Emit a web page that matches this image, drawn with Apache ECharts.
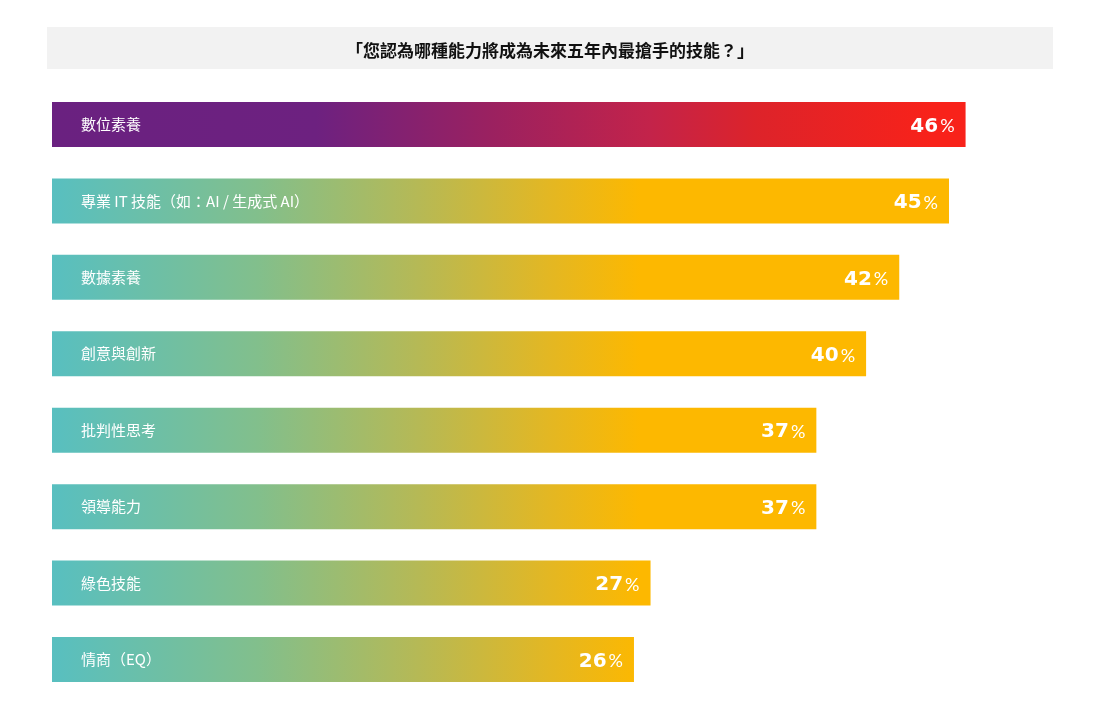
<!DOCTYPE html>
<html>
<head>
<meta charset="utf-8">
<script src="https://cdn.jsdelivr.net/npm/echarts@6/dist/echarts.min.js"></script>
<style>
html,body{margin:0;padding:0;background:#fff;}
#chart{width:1100px;height:710px;}
</style>
</head>
<body>
<div id="chart"></div>
<script>
const titleText = '「您認為哪種能力將成為未來五年內最搶手的技能？」';
const categories = ['數位素養', '專業 IT 技能（如：AI / 生成式 AI）', '數據素養', '創意與創新', '批判性思考', '領導能力', '綠色技能', '情商（EQ）'];
const values = [46, 45, 42, 40, 37, 37, 27, 26];

const AXIS_MIN = -9.1;
const AXIS_MAX = 50;

const chart = echarts.init(document.getElementById('chart'), null, {renderer: 'canvas'});

const highlightGrad = new echarts.graphic.LinearGradient(52, 0, 932, 0, [
  {offset: 0, color: '#6a2180'},
  {offset: 0.3, color: '#6d2180'},
  {offset: 0.5, color: '#9b2160'},
  {offset: 0.68, color: '#c3234a'},
  {offset: 0.8, color: '#dd232a'},
  {offset: 1, color: '#f8221a'}
], true);
const normalGrad = new echarts.graphic.LinearGradient(52, 0, 640, 0, [
  {offset: 0, color: '#58bfc0'},
  {offset: 0.35, color: '#82bf8c'},
  {offset: 0.62, color: '#b5b956'},
  {offset: 0.85, color: '#e4b722'},
  {offset: 1, color: '#fdb800'}
], true);

const data = values.map((v, i) => [v, i]);

chart.setOption({
  animation: false,
  graphic: [
    {type: 'rect', left: 47, top: 27, shape: {width: 1006, height: 42}, style: {fill: '#f2f2f2'}, z: 0}
  ],
  title: {
    text: titleText,
    left: 'center',
    top: 37,
    textStyle: {fontFamily: '"Noto Sans CJK TC"', fontSize: 17, fontWeight: 'bold', color: '#111'}
  },
  grid: {left: 52, right: 68.1, top: 86.3, bottom: 12.3, containLabel: false},
  xAxis: {type: 'value', min: AXIS_MIN, max: AXIS_MAX, show: false},
  yAxis: {type: 'category', data: categories, inverse: true, show: false},
  series: [{
    type: 'custom',
    data: data,
    encode: {x: 0, y: 1},
    renderItem: function (params, api) {
      const idx = api.value(1);
      const v = api.value(0);
      const start = api.coord([AXIS_MIN, idx]);
      const end = api.coord([v, idx]);
      const h = 45;
      const y = start[1] - h / 2;
      return {
        type: 'group',
        children: [
          {
            type: 'rect',
            shape: {x: start[0], y: y, width: end[0] - start[0], height: h},
            style: {fill: idx === 0 ? highlightGrad : normalGrad}
          },
          {
            type: 'text',
            x: start[0] + 29,
            y: start[1],
            style: {
              text: categories[idx],
              fill: '#fff',
              fontFamily: '"Noto Sans CJK TC"',
              fontSize: 15,
              verticalAlign: 'middle',
              align: 'left'
            }
          },
          {
            type: 'text',
            x: end[0] - 11,
            y: start[1] + 2,
            style: {
              text: '{n|' + v + '}{p|%}',
              align: 'right',
              verticalAlign: 'middle',
              rich: {
                n: {fontFamily: '"DejaVu Sans"', fontWeight: 'bold', fontSize: 20, fill: '#fff', color: '#fff'},
                p: {fontFamily: 'Lato', fontWeight: 'normal', fontSize: 18, fill: '#fff', color: '#fff', padding: [0, 0, 0, 2]}
              }
            }
          }
        ]
      };
    }
  }]
});
</script>
</body>
</html>
